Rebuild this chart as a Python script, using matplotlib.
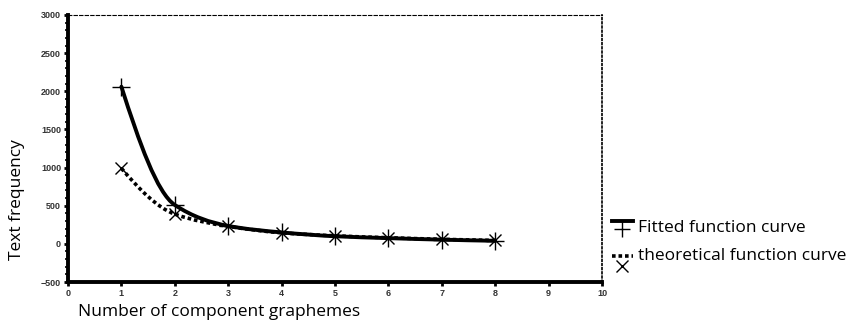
import numpy as np
import matplotlib
matplotlib.use("Agg")
import matplotlib.pyplot as plt
from matplotlib.path import Path
from matplotlib.patches import PathPatch
from matplotlib.lines import Line2D
from matplotlib.ticker import MultipleLocator

# data
graphemes = [1, 2, 3, 4, 5, 6, 7, 8]
fitted = [2060, 510, 235, 150, 100, 75, 55, 40]
theoretical = [990, 390, 230, 145, 105, 80, 60, 45]
y_ticks = [-500, 0, 500, 1000, 1500, 2000, 2500, 3000]
x_ticks = [0, 1, 2, 3, 4, 5, 6, 7, 8, 9, 10]


def smooth_path(xs, ys):
    # monotone (pchip-style) tangents, drawn as bezier segments
    xs = np.asarray(xs, float)
    ys = np.asarray(ys, float)
    n = len(xs)
    h = np.diff(xs)
    s = np.diff(ys) / h
    d = np.zeros(n)
    for i in range(1, n - 1):
        if s[i - 1] * s[i] > 0:
            w1 = 2 * h[i] + h[i - 1]
            w2 = h[i] + 2 * h[i - 1]
            d[i] = (w1 + w2) / (w1 / s[i - 1] + w2 / s[i])
    d[0] = ((2 * h[0] + h[1]) * s[0] - h[0] * s[1]) / (h[0] + h[1])
    d[-1] = ((2 * h[-1] + h[-2]) * s[-1] - h[-1] * s[-2]) / (h[-1] + h[-2])
    verts = [(xs[0], ys[0])]
    codes = [Path.MOVETO]
    for i in range(n - 1):
        verts += [(xs[i] + h[i] / 3, ys[i] + d[i] * h[i] / 3),
                  (xs[i + 1] - h[i] / 3, ys[i + 1] - d[i + 1] * h[i] / 3),
                  (xs[i + 1], ys[i + 1])]
        codes += [Path.CURVE4] * 3
    return Path(verts, codes)


fig = plt.figure(figsize=(8.57, 3.22), dpi=100)
ax = fig.add_axes([68 / 857, 1 - 282 / 322, 534 / 857, 267 / 322])

ax.add_patch(PathPatch(smooth_path(graphemes, fitted), fill=False,
                       lw=2.8, color="black", capstyle="round"))
ax.add_patch(PathPatch(smooth_path(graphemes, theoretical), fill=False,
                       lw=2.6, color="black", linestyle=(0, (1, 0.8))))
ax.plot(graphemes, fitted, ls="none", marker="+", ms=13, mew=1.0, color="black")
ax.plot(graphemes, theoretical, ls="none", marker="x", ms=8, mew=1.0, color="black")

ax.set_xlim(0, 10)
ax.set_ylim(-500, 3000)
ax.set_xticks(x_ticks)
ax.set_yticks(y_ticks)
ax.yaxis.set_minor_locator(MultipleLocator(100))

for sp in ["left", "bottom"]:
    ax.spines[sp].set_linewidth(2.8)
ax.spines["top"].set_linestyle((0, (3, 2)))
ax.spines["top"].set_linewidth(0.8)
ax.spines["right"].set_linestyle((0, (1, 1.5)))
ax.spines["right"].set_linewidth(1.2)

ax.tick_params(axis="both", which="major", length=3, width=2, direction="out",
               labelsize=6.5, labelcolor="#333333", pad=2)
ax.tick_params(axis="y", which="minor", length=2.5, width=1.2, direction="out")
for lab in ax.get_xticklabels() + ax.get_yticklabels():
    lab.set_fontweight("bold")
    lab.set_family("Liberation Sans")

lab_font = dict(family="Open Sans", fontsize=12.5, color="black")
fig.text(17 / 857, 1 - 200 / 322, "Text frequency", rotation=90,
         ha="center", va="center", **lab_font)
fig.text(78 / 857, 1 - 312 / 322, "Number of component graphemes",
         ha="left", va="center", **lab_font)

# legend drawn by hand (marker sits under the line sample)
tr = fig.transFigure
fig.lines.append(Line2D([612 / 857, 633 / 857], [1 - 221 / 322] * 2, lw=2.8,
                        color="black", transform=tr))
fig.lines.append(Line2D([622 / 857], [1 - 229 / 322], marker="+", ms=11,
                        mew=1.0, color="black", transform=tr))
fig.text(638 / 857, 1 - 228 / 322, "Fitted function curve", ha="left",
         va="center", **lab_font)
fig.lines.append(Line2D([612 / 857, 633 / 857], [1 - 256 / 322] * 2, lw=2.6,
                        color="black", linestyle=(0, (1, 0.8)), transform=tr))
fig.lines.append(Line2D([622 / 857], [1 - 266 / 322], marker="x", ms=8,
                        mew=1.0, color="black", transform=tr))
fig.text(638 / 857, 1 - 256 / 322, "theoretical function curve", ha="left",
         va="center", **lab_font)

fig.savefig("out.png", dpi=100)
